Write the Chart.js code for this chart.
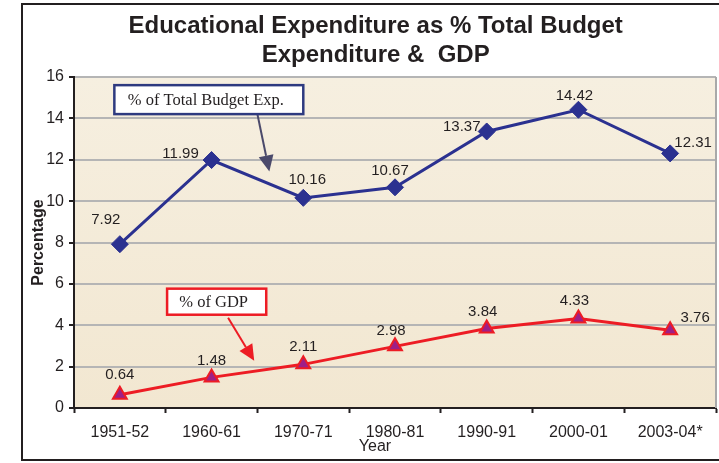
<!DOCTYPE html>
<html>
<head>
<meta charset="utf-8">
<script src="https://cdn.jsdelivr.net/npm/chart.js@4.4.1/dist/chart.umd.min.js"></script>
<style>
  html, body { margin: 0; padding: 0; background: #fff; }
  #wrap { width: 719px; height: 463px; }
</style>
</head>
<body>
<div id="wrap"><canvas id="chart"></canvas></div>
<script>
const years = ['1951-52', '1960-61', '1970-71', '1980-81', '1990-91', '2000-01', '2003-04*'];
const budgetShare = [7.92, 11.99, 10.16, 10.67, 13.37, 14.42, 12.31];
const gdpShare = [0.64, 1.48, 2.11, 2.98, 3.84, 4.33, 3.76];
const yTicks = [0, 2, 4, 6, 8, 10, 12, 14, 16];

// where each value label sits relative to its point (px)
const budgetLabelShift = [[-14, -24], [-31, -6], [4, -18], [-5, -16], [-25, -5], [-4, -14], [23, -11]];
const gdpLabelShift = [[0, -20], [0, -17], [0, -18], [-4, -16], [-4, -17], [-4, -18], [25, -12]];

// callout boxes, in scale units: box = [x1, y1, x2, y2], arrow = [fromX, fromY, toX, toY]
const callouts = [
    { text: '% of Total Budget Exp.', border: '#2e3a80', arrowColor: '#4b4a6b',
      box: [-0.06, 15.61, 2.0, 14.21], arrow: [1.5, 14.2, 1.63, 11.44] },
    { text: '% of GDP', border: '#ed1c24', arrowColor: '#ed1c24',
      box: [0.515, 5.77, 1.596, 4.51], arrow: [1.18, 4.36, 1.465, 2.28] }
];

const FONT = "'Liberation Sans', Arial, sans-serif";
const TEXT = '#231f20';

function drawArrow(ctx, x1, y1, x2, y2, color) {
    const ang = Math.atan2(y2 - y1, x2 - x1);
    const head = 16, half = 7.5;
    const bx = x2 - Math.cos(ang) * head, by = y2 - Math.sin(ang) * head;
    ctx.strokeStyle = color;
    ctx.fillStyle = color;
    ctx.lineWidth = 2;
    ctx.beginPath();
    ctx.moveTo(x1, y1);
    ctx.lineTo(bx, by);
    ctx.stroke();
    ctx.beginPath();
    ctx.moveTo(x2, y2);
    ctx.lineTo(bx + Math.sin(ang) * half, by - Math.cos(ang) * half);
    ctx.lineTo(bx - Math.sin(ang) * half, by + Math.cos(ang) * half);
    ctx.closePath();
    ctx.fill();
}

const chartDecor = {
    id: 'chartDecor',
    beforeDraw(chart) {
        const { ctx, chartArea: a } = chart;
        ctx.save();
        // outer frame
        ctx.strokeStyle = TEXT;
        ctx.lineWidth = 2;
        ctx.strokeRect(22, 4, 720, 456);
        // plot background
        const g = ctx.createLinearGradient(0, a.top, 0, a.bottom);
        g.addColorStop(0, '#f6efe0');
        g.addColorStop(1, '#f2e7d1');
        ctx.fillStyle = g;
        ctx.fillRect(a.left, a.top, a.width, a.height);
        ctx.restore();
    },
    beforeDatasetsDraw(chart) {
        const { ctx, chartArea: a } = chart;
        ctx.save();
        ctx.strokeStyle = '#a9a9a9';
        ctx.lineWidth = 2;
        ctx.beginPath();
        ctx.moveTo(a.right, a.top);
        ctx.lineTo(a.right, a.bottom);
        ctx.stroke();
        ctx.restore();
    },
    afterDatasetsDraw(chart) {
        const { ctx, chartArea: a, scales: { x, y } } = chart;
        ctx.save();

        // value labels
        ctx.font = '15px ' + FONT;
        ctx.fillStyle = TEXT;
        ctx.textAlign = 'center';
        ctx.textBaseline = 'middle';
        [budgetLabelShift, gdpLabelShift].forEach((shift, di) => {
            const meta = chart.getDatasetMeta(di);
            const values = chart.data.datasets[di].data;
            meta.data.forEach((pt, i) => {
                ctx.fillText(values[i].toFixed(2), pt.x + shift[i][0], pt.y + shift[i][1]);
            });
        });

        // callouts
        callouts.forEach(c => {
            const l = x.getPixelForValue(c.box[0]), t = y.getPixelForValue(c.box[1]);
            const r = x.getPixelForValue(c.box[2]), b = y.getPixelForValue(c.box[3]);
            drawArrow(ctx, x.getPixelForValue(c.arrow[0]), y.getPixelForValue(c.arrow[1]),
                x.getPixelForValue(c.arrow[2]), y.getPixelForValue(c.arrow[3]), c.arrowColor);
            ctx.fillStyle = '#fff';
            ctx.fillRect(l, t, r - l, b - t);
            ctx.strokeStyle = c.border;
            ctx.lineWidth = 2.5;
            ctx.strokeRect(l, t, r - l, b - t);
            ctx.fillStyle = TEXT;
            ctx.font = "16.5px 'Liberation Serif', 'Times New Roman', serif";
            ctx.textAlign = 'center';
            ctx.textBaseline = 'middle';
            ctx.fillText(c.text, (l + r) / 2 - 3, (t + b) / 2 + 1);
        });

        // x axis title sits a little left of centre in the original
        ctx.font = '16px ' + FONT;
        ctx.fillStyle = TEXT;
        ctx.textAlign = 'center';
        ctx.textBaseline = 'middle';
        ctx.fillText('Year', (a.left + a.right) / 2 - 20, 447);
        ctx.restore();
    }
};

new Chart(document.getElementById('chart'), {
    type: 'line',
    data: {
        labels: years,
        datasets: [
            {
                label: '% of Total Budget Exp.',
                data: budgetShare,
                borderColor: '#2b3190',
                backgroundColor: '#2b3190',
                borderWidth: 3,
                pointStyle: 'rectRot',
                pointRadius: 8.5,
                pointBorderWidth: 1,
                tension: 0
            },
            {
                label: '% of GDP',
                data: gdpShare,
                borderColor: '#ed1c24',
                backgroundColor: '#9e1f87',
                borderWidth: 3,
                pointStyle: 'triangle',
                pointRadius: 8,
                pointBorderColor: '#ed1c24',
                pointBorderWidth: 2,
                tension: 0
            }
        ]
    },
    options: {
        responsive: true,
        maintainAspectRatio: false,
        animation: false,
        layout: { autoPadding: false, padding: { left: 22, right: 3, top: 0, bottom: 0 } },
        plugins: {
            legend: { display: false },
            tooltip: { enabled: false },
            title: {
                display: true,
                // leading spaces nudge the centred title right, as in the original
                text: ['  Educational Expenditure as % Total Budget', '  Expenditure &  GDP'],
                color: TEXT,
                font: { family: FONT, size: 24, weight: 'bold', lineHeight: 1.21 },
                padding: { top: 12, bottom: 7 }
            }
        },
        scales: {
            x: {
                offset: true,
                afterFit: s => { s.height = 55; s.paddingLeft = 0; s.paddingRight = 0; },
                grid: {
                    display: true,
                    offset: true,
                    drawOnChartArea: false,
                    tickLength: 5,
                    tickColor: TEXT,
                    tickWidth: 2
                },
                border: { color: TEXT, width: 2 },
                ticks: { color: TEXT, font: { family: FONT, size: 16 }, padding: 10, maxRotation: 0 }
            },
            y: {
                min: 0,
                max: 16,
                afterFit: s => { s.width = 52; },
                afterBuildTicks: s => { s.ticks = yTicks.map(v => ({ value: v })); },
                grid: {
                    color: c => (c.tick && c.tick.value === 0 ? 'rgba(0,0,0,0)' : '#b5b5b5'),
                    lineWidth: 2,
                    tickLength: 5,
                    tickColor: TEXT,
                    tickWidth: 2
                },
                border: { color: TEXT, width: 2 },
                ticks: { color: TEXT, font: { family: FONT, size: 16 }, padding: 5 },
                title: {
                    display: true,
                    text: 'Percentage',
                    color: TEXT,
                    font: { family: FONT, size: 16, weight: 'bold' },
                    padding: { top: 7, bottom: 0 }
                }
            }
        }
    },
    plugins: [chartDecor]
});
</script>
</body>
</html>
